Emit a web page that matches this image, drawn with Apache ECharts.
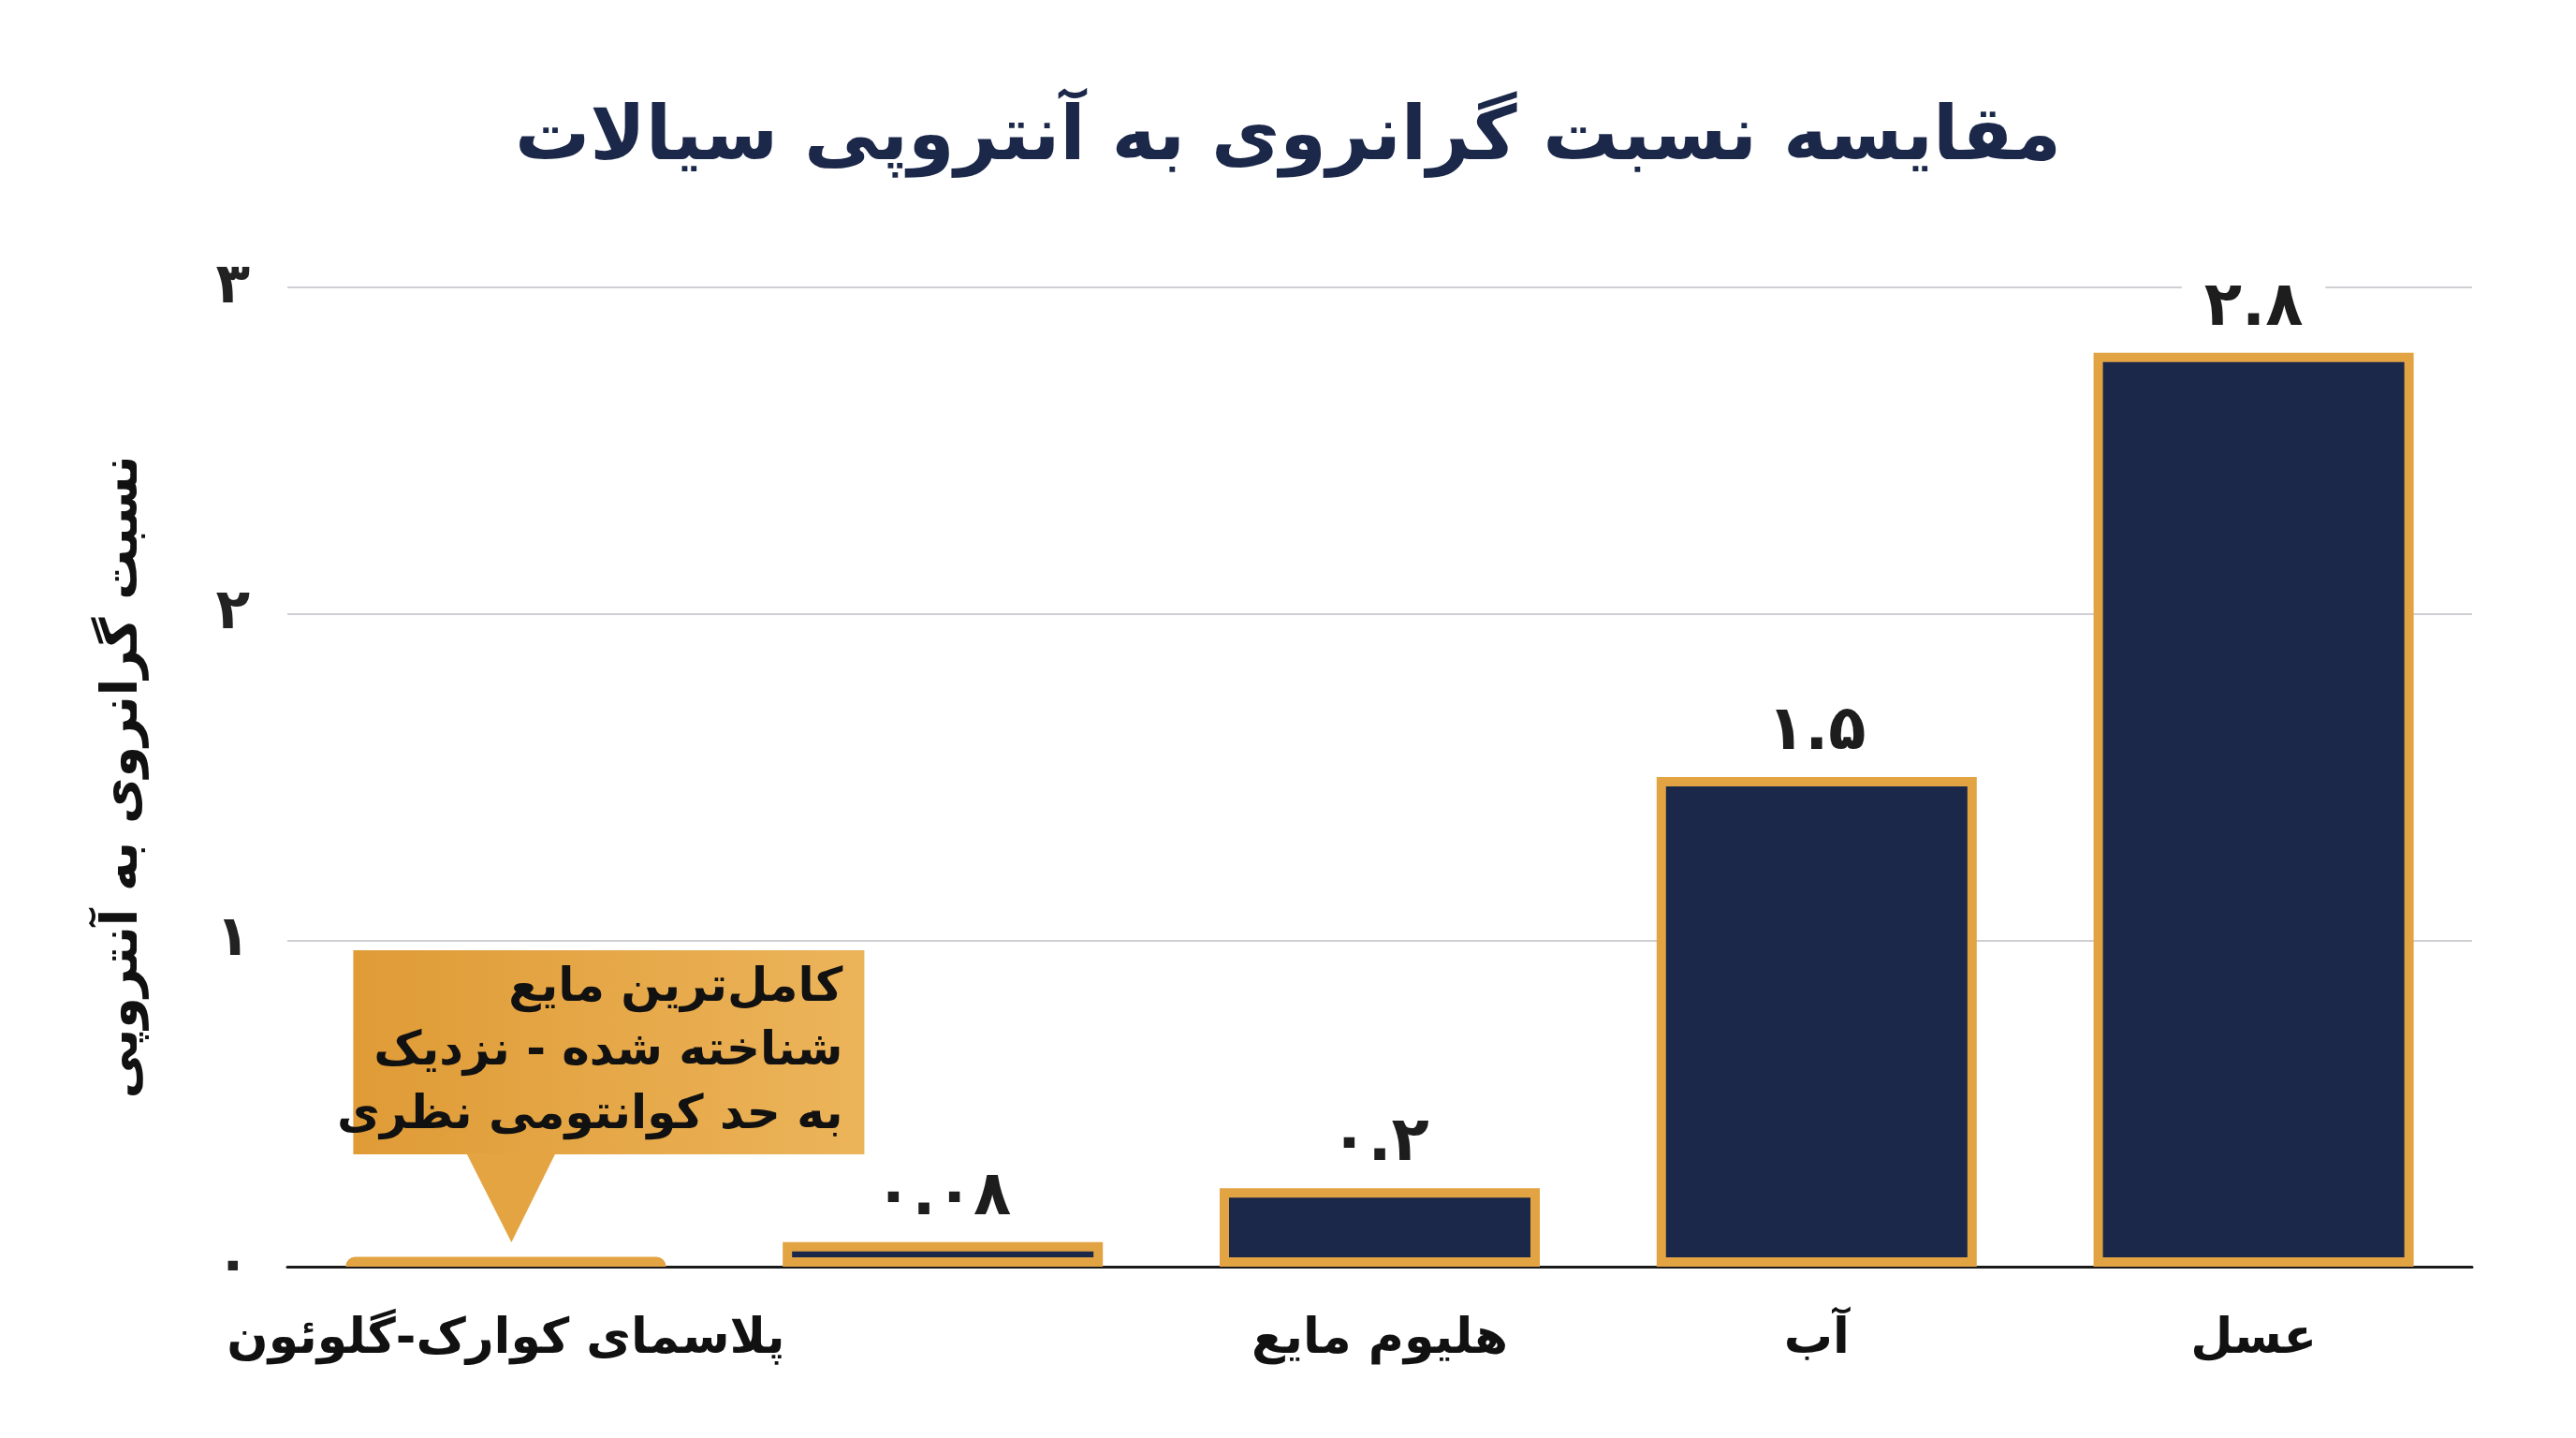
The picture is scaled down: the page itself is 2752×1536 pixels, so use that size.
<!DOCTYPE html>
<html>
<head>
    <meta charset="utf-8">
    <title>مقایسه نسبت گرانروی به آنتروپی سیالات</title>
    <script src="https://cdn.jsdelivr.net/npm/echarts@6/dist/echarts.min.js"></script>
    <style>
        html, body { margin:0; padding:0; background:#fff; }
        #chart { width:2752px; height:1536px; }
    </style>
</head>
<body>
    <div id="chart"></div>

    <script>
        // داده‌ها
        const categories = ['پلاسمای کوارک-گلوئون', '', 'هلیوم مایع', 'آب', 'عسل'];
        const ratios = [0.03, 0.075, 0.24, 1.5, 2.8];
        const valueLabels = ['', '۰.۰۸', '۰.۲', '۱.۵', '۲.۸'];
        const noteLines = ['کامل‌ترین مایع', 'شناخته شده - نزدیک', 'به حد کوانتومی نظری'];

        const FONT = "'DejaVu Sans', sans-serif";
        const NAVY = '#1b2849';
        const GOLD = '#e2a343';

        function toPersian(s) {
            return String(s).replace(/[0-9]/g, d => '۰۱۲۳۴۵۶۷۸۹'[d]);
        }

        let chart = echarts.init(document.getElementById('chart'));

        let option = {
            backgroundColor: '#ffffff',
            title: {
                text: 'مقایسه نسبت گرانروی به آنتروپی سیالات',
                left: 'center',
                top: 104,
                textStyle: { fontFamily: FONT, fontSize: 80, fontWeight: 'bold', color: '#1b2849' }
            },
            grid: { left: 307, right: 111, top: 307, bottom: 183 },
            xAxis: {
                type: 'category',
                data: categories,
                axisLine: { lineStyle: { color: '#1a1a1a', width: 3 } },
                axisTick: { show: false },
                axisLabel: {
                    interval: 0,
                    margin: 52,
                    fontFamily: FONT, fontSize: 52, fontWeight: 'bold', color: '#111'
                }
            },
            yAxis: {
                type: 'value',
                min: 0, max: 3, interval: 1,
                name: 'نسبت گرانروی به آنتروپی',
                nameLocation: 'middle',
                nameRotate: 90,
                nameGap: 148,
                nameTextStyle: { fontFamily: FONT, fontSize: 54, fontWeight: 'bold', color: '#111' },
                axisLine: { show: false },
                axisTick: { show: false },
                axisLabel: {
                    margin: 40,
                    fontFamily: FONT, fontSize: 60, fontWeight: 'bold', color: '#222',
                    formatter: v => toPersian(v)
                },
                splitLine: { lineStyle: { color: '#cfcfd4', width: 2 } }
            },
            series: [{
                type: 'bar',
                barWidth: 342,
                z: 3,
                data: ratios.map((v, i) => i === 0
                    ? { value: v, itemStyle: { color: GOLD, borderWidth: 0, borderRadius: [10, 10, 0, 0] } }
                    : { value: v }),
                itemStyle: { color: NAVY, borderColor: GOLD, borderWidth: 10 },
                label: {
                    show: true,
                    position: 'top',
                    distance: 14,
                    formatter: p => valueLabels[p.dataIndex],
                    fontFamily: FONT, fontSize: 66, fontWeight: 'bold', color: '#1d1d1d',
                    backgroundColor: '#ffffff',
                    padding: [0, 24]
                }
            }]
        };

        chart.setOption(option);

        // کادر توضیح روی میله اول
        let base = chart.convertToPixel({ xAxisIndex: 0, yAxisIndex: 0 }, [0, 0]);
        let cx = base[0], cy = base[1];
        chart.setOption({
            graphic: [{
                type: 'group',
                children: [
                    {
                        type: 'rect',
                        shape: { x: cx - 163, y: cy - 338, width: 546, height: 218 },
                        style: {
                            fill: new echarts.graphic.LinearGradient(0, 0, 1, 0, [
                                { offset: 0, color: '#df9b36' },
                                { offset: 1, color: '#ecb45a' }
                            ])
                        }
                    },
                    {
                        type: 'polygon',
                        shape: { points: [[cx - 42, cy - 121], [cx + 53, cy - 121], [cx + 6, cy - 26]] },
                        style: { fill: '#e4a442' }
                    },
                    {
                        type: 'text',
                        style: {
                            x: cx + 360, y: cy - 229,
                            text: noteLines.join('\n'),
                            align: 'right',
                            verticalAlign: 'middle',
                            lineHeight: 68,
                            fontFamily: FONT, fontSize: 50, fontWeight: 'bold',
                            fill: '#111'
                        }
                    }
                ]
            }]
        });
    </script>
</body>
</html>
